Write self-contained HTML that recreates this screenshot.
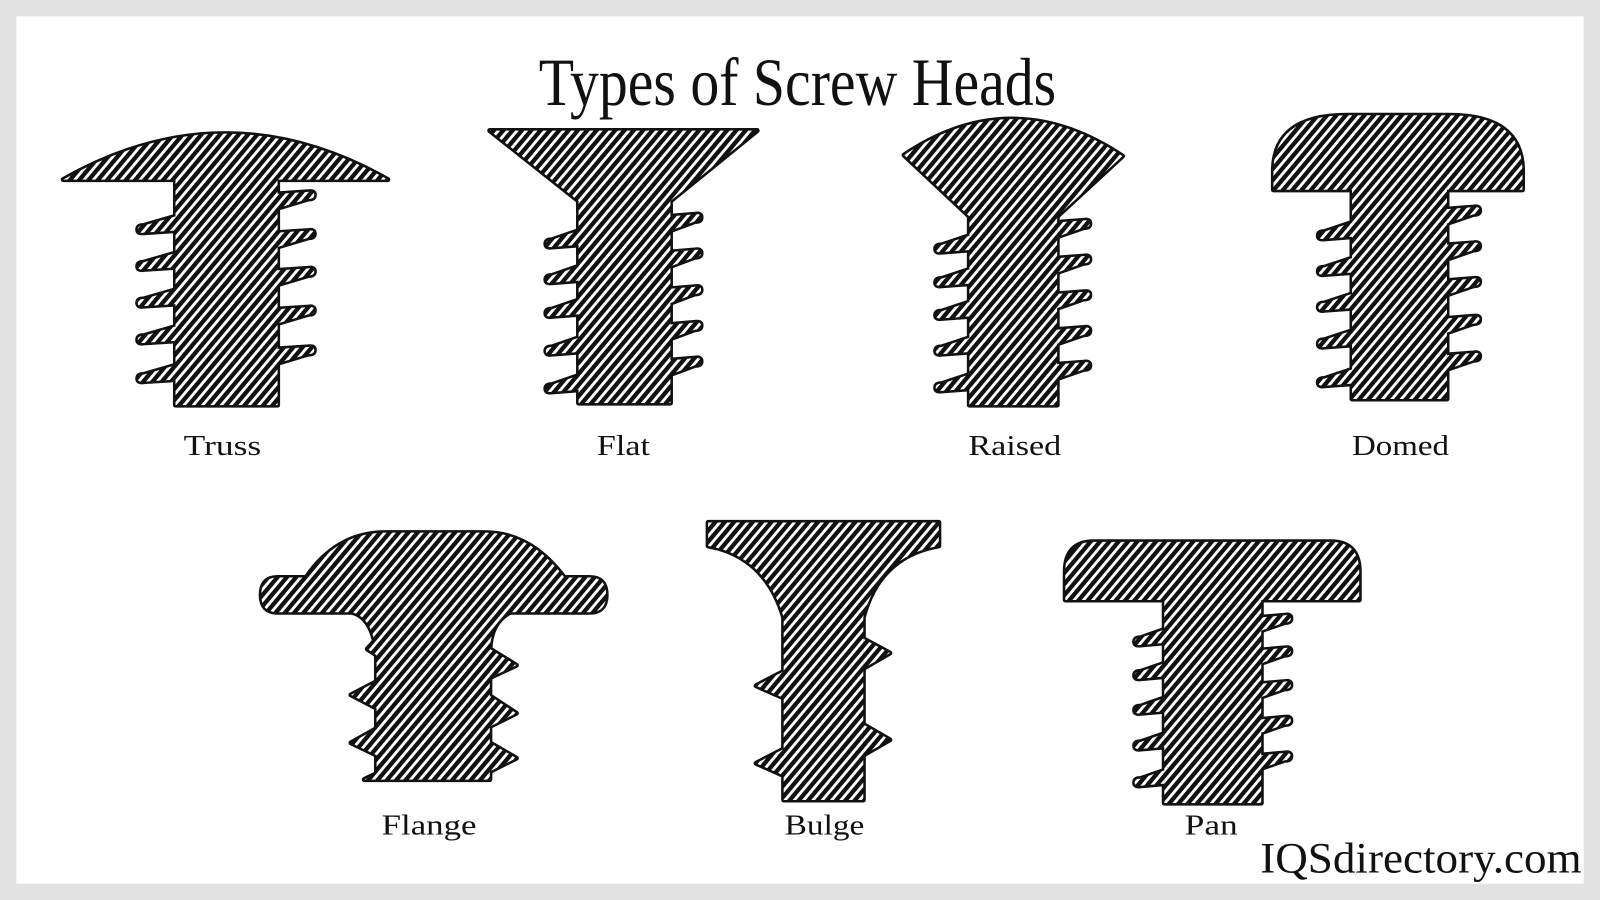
<!DOCTYPE html>
<html><head><meta charset="utf-8"><style>html,body{margin:0;padding:0;background:#e2e2e2}svg{display:block}</style></head>
<body>
<svg width="1600" height="900" viewBox="0 0 1568 882" xmlns="http://www.w3.org/2000/svg">
<defs>
<pattern id="h" patternUnits="userSpaceOnUse" width="7" height="7" patternTransform="rotate(-50)">
<rect width="7" height="7" fill="#111"/><rect width="7" height="2.8" fill="#fff"/>
</pattern>
<g id="shapes">
<!-- Truss -->
<path d="M62,176 Q221,86 380,176 Z"/>
<rect x="172" y="174" width="100" height="223"/>
<path d="M272,190 L302,188 Q308,187 308,191 Q308,195 302,195 L272,204 Z M272,228 L302,226 Q308,225 308,229 Q308,233 302,233 L272,242 Z M272,265 L302,263 Q308,262 308,266 Q308,270 302,270 L272,279 Z M272,303 L302,301 Q308,300 308,304 Q308,308 302,308 L272,317 Z M272,342 L302,340 Q308,339 308,343 Q308,347 302,347 L272,356 Z"/>
<path d="M172,226 L141,228 Q135,229 135,225 Q135,221 141,221 L172,212 Z M172,262 L141,264 Q135,265 135,261 Q135,257 141,257 L172,248 Z M172,298 L141,300 Q135,301 135,297 Q135,293 141,293 L172,284 Z M172,334 L141,336 Q135,337 135,333 Q135,329 141,329 L172,320 Z M172,372 L141,374 Q135,375 135,371 Q135,367 141,367 L172,358 Z"/>
<!-- Flat -->
<path d="M480,128 L742,128 L657,197 L567,197 Z"/>
<rect x="567" y="195" width="90" height="200"/>
<path d="M657,212 L681,210 Q687,209 687,213 Q687,217 681,217 L657,226 Z M657,247 L681,245 Q687,244 687,248 Q687,252 681,252 L657,261 Z M657,283 L681,281 Q687,280 687,284 Q687,288 681,288 L657,297 Z M657,318 L681,316 Q687,315 687,319 Q687,323 681,323 L657,332 Z M657,353 L681,351 Q687,350 687,354 Q687,358 681,358 L657,367 Z"/>
<path d="M567,240 L541,242 Q535,243 535,239 Q535,235 541,235 L567,226 Z M567,275 L541,277 Q535,278 535,274 Q535,270 541,270 L567,261 Z M567,308 L541,310 Q535,311 535,307 Q535,303 541,303 L567,294 Z M567,345 L541,347 Q535,348 535,344 Q535,340 541,340 L567,331 Z M567,382 L541,384 Q535,385 535,381 Q535,377 541,377 L567,368 Z"/>
<!-- Raised -->
<path d="M886,152 Q992,81 1100,153 L1036,212 L950,212 Z"/>
<rect x="950" y="208" width="86" height="189"/>
<path d="M1036,218 L1062,216 Q1068,215 1068,219 Q1068,223 1062,223 L1036,232 Z M1036,253 L1062,251 Q1068,250 1068,254 Q1068,258 1062,258 L1036,267 Z M1036,288 L1062,286 Q1068,285 1068,289 Q1068,293 1062,293 L1036,302 Z M1036,323 L1062,321 Q1068,320 1068,324 Q1068,328 1062,328 L1036,337 Z M1036,357 L1062,355 Q1068,354 1068,358 Q1068,362 1062,362 L1036,371 Z"/>
<path d="M950,245 L923,247 Q917,248 917,244 Q917,240 923,240 L950,231 Z M950,278 L923,280 Q917,281 917,277 Q917,273 923,273 L950,264 Z M950,310 L923,312 Q917,313 917,309 Q917,305 923,305 L950,296 Z M950,345 L923,347 Q917,348 917,344 Q917,340 923,340 L950,331 Z M950,381 L923,383 Q917,384 917,380 Q917,376 923,376 L950,367 Z"/>
<!-- Domed -->
<path d="M1248,186 L1248,165 Q1250,113 1320,113 L1420,113 Q1490,113 1492,165 L1492,186 Z"/>
<rect x="1325" y="184" width="93" height="207"/>
<path d="M1418,205 L1444,203 Q1450,202 1450,206 Q1450,210 1444,210 L1418,219 Z M1418,240 L1444,238 Q1450,237 1450,241 Q1450,245 1444,245 L1418,254 Z M1418,275 L1444,273 Q1450,272 1450,276 Q1450,280 1444,280 L1418,289 Z M1418,312 L1444,310 Q1450,309 1450,313 Q1450,317 1444,317 L1418,326 Z M1418,348 L1444,346 Q1450,345 1450,349 Q1450,353 1444,353 L1418,362 Z"/>
<path d="M1325,232 L1298,234 Q1292,235 1292,231 Q1292,227 1298,227 L1325,218 Z M1325,267 L1298,269 Q1292,270 1292,266 Q1292,262 1298,262 L1325,253 Z M1325,302 L1298,304 Q1292,305 1292,301 Q1292,297 1298,297 L1325,288 Z M1325,338 L1298,340 Q1292,341 1292,337 Q1292,333 1298,333 L1325,324 Z M1325,376 L1298,378 Q1292,379 1292,375 Q1292,371 1298,371 L1325,362 Z"/>
<!-- Flange -->
<path d="M272,566 L300,566 Q330,522 378,522 L475,522 Q520,522 553,566 L578,566 Q594,566 594,583 Q594,600 578,600 L500,600 Q480,610 480,640 L480,764 L357,764 L369,758 L369,640 Q365,605 345,600 L272,600 Q256,600 256,583 Q256,566 272,566 Z"/>
<path d="M480,636 L506,652 L480,664 Z M480,682 L506,699 L480,712 Z M480,728 L506,743 L480,756 Z"/>
<path d="M369,626 L360,636 L369,642 Z M369,668 L344,681 L369,694 Z M369,714 L344,728 L369,740 Z"/>
<!-- Bulge -->
<path d="M694,512 L920,512 L920,535 Q862,545 846,605 L846,784 L768,784 L768,605 Q750,545 694,535 Z"/>
<path d="M846,626 L872,640 L846,655 Z M846,710 L872,725 L846,740 Z"/>
<path d="M768,658 L741,672 L768,684 Z M768,734 L741,748 L768,760 Z"/>
<!-- Pan -->
<path d="M1044,588 L1044,560 Q1044,531 1072,531 L1304,531 Q1332,531 1332,560 L1332,588 Z"/>
<rect x="1141" y="586" width="95" height="201"/>
<path d="M1236,605 L1259,603 Q1265,602 1265,606 Q1265,610 1259,610 L1236,618 Z M1236,637 L1259,635 Q1265,634 1265,638 Q1265,642 1259,642 L1236,650 Z M1236,670 L1259,668 Q1265,667 1265,671 Q1265,675 1259,675 L1236,683 Z M1236,705 L1259,703 Q1265,702 1265,706 Q1265,710 1259,710 L1236,718 Z M1236,740 L1259,738 Q1265,737 1265,741 Q1265,745 1259,745 L1236,753 Z"/>
<path d="M1141,630 L1118,632 Q1112,633 1112,629 Q1112,625 1118,625 L1141,617 Z M1141,663 L1118,665 Q1112,666 1112,662 Q1112,658 1118,658 L1141,650 Z M1141,697 L1118,699 Q1112,700 1112,696 Q1112,692 1118,692 L1141,684 Z M1141,732 L1118,734 Q1112,735 1112,731 Q1112,727 1118,727 L1141,719 Z M1141,768 L1118,770 Q1112,771 1112,767 Q1112,763 1118,763 L1141,755 Z"/>
</g>
</defs>
<rect x="0" y="0" width="1568" height="882" fill="#e2e2e2"/>
<rect x="16" y="16" width="1536" height="850" fill="#fff"/>
<use href="#shapes" fill="#111" stroke="#111" stroke-width="5" stroke-linejoin="round"/>
<use href="#shapes" fill="url(#h)" stroke="none"/>
<g font-family="'Liberation Serif', serif" fill="#111">
<text x="528" y="103" font-size="66" textLength="507" lengthAdjust="spacingAndGlyphs">Types of Screw Heads</text>
<g font-size="28">
<text x="180" y="446" textLength="76" lengthAdjust="spacingAndGlyphs">Truss</text>
<text x="585" y="446" textLength="52" lengthAdjust="spacingAndGlyphs">Flat</text>
<text x="949" y="446" textLength="91" lengthAdjust="spacingAndGlyphs">Raised</text>
<text x="1325" y="446" textLength="95" lengthAdjust="spacingAndGlyphs">Domed</text>
<text x="374" y="818" textLength="93" lengthAdjust="spacingAndGlyphs">Flange</text>
<text x="769" y="818" textLength="78" lengthAdjust="spacingAndGlyphs">Bulge</text>
<text x="1161" y="818" textLength="52" lengthAdjust="spacingAndGlyphs">Pan</text>
</g>
<text x="1235" y="855" font-size="42" textLength="315" lengthAdjust="spacingAndGlyphs">IQSdirectory.com</text>
</g>
</svg>
</body></html>
